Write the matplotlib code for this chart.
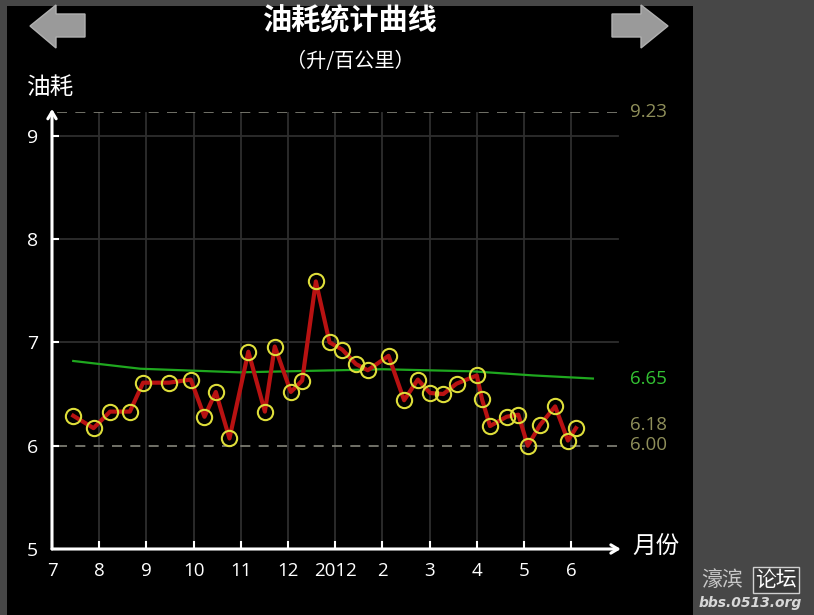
import matplotlib
matplotlib.use('Agg')
import matplotlib.pyplot as plt
from matplotlib.patches import Polygon, Rectangle

# ---- data ----
months = [0.45, 0.88, 1.23, 1.65, 1.93, 2.48, 2.94, 3.23, 3.47, 3.76, 4.16, 4.51,
          4.72, 5.06, 5.30, 5.59, 5.88, 6.15, 6.44, 6.69, 7.13, 7.46, 7.75, 8.01,
          8.29, 8.57, 9.00, 9.11, 9.28, 9.63, 9.88, 10.08, 10.34, 10.66, 10.93, 11.10]
values = [6.29, 6.17, 6.33, 6.33, 6.61, 6.61, 6.64, 6.28, 6.52, 6.07, 6.91, 6.33,
          6.96, 6.52, 6.63, 7.59, 7.00, 6.93, 6.79, 6.73, 6.87, 6.44, 6.64, 6.51,
          6.50, 6.60, 6.68, 6.45, 6.19, 6.28, 6.30, 6.00, 6.20, 6.38, 6.05, 6.17]
trend_months = [0.45, 1.87, 3.97, 6.02, 7.0, 8.9, 10.2, 11.46]
trend_values = [6.82, 6.745, 6.71, 6.73, 6.74, 6.72, 6.68, 6.65]
month_labels = ['7', '8', '9', '10', '11', '12', '2012', '2', '3', '4', '5', '6']
y_ticks = [5, 6, 7, 8, 9]
max_value = 9.23
min_value = 6.00
avg_value = 6.65
last_value = 6.18

CJK = ['Noto Sans CJK SC', 'DejaVu Sans']
NUM = ['Open Sans', 'Noto Sans CJK SC', 'DejaVu Sans']

W, H = 814, 615
fig = plt.figure(figsize=(W / 100, H / 100), dpi=100)
fig.patch.set_facecolor('#474747')


def px(x, y):
    return (x / W, 1 - y / H)


# black phone panel
fig.patches.append(Rectangle(px(7, 615), (693 - 7) / W, (615 - 6) / H,
                             transform=fig.transFigure, facecolor='black',
                             edgecolor='none', zorder=-10))

# navigation arrows
left_arrow = [(30, 26), (56, 5), (56, 14), (85, 14), (85, 37), (56, 37), (56, 48)]
right_arrow = [(668, 26), (641, 5), (641, 14), (612, 14), (612, 37), (641, 37), (641, 48)]
for pts in (left_arrow, right_arrow):
    fig.patches.append(Polygon([px(*p) for p in pts], closed=True,
                               transform=fig.transFigure, facecolor='#9a9a9a',
                               edgecolor='#b0b0b0', linewidth=1, zorder=-5))

# titles
fig.text(*px(350, 19), '油耗统计曲线', ha='center', va='center', fontsize=21,
         color='white', family=CJK, weight='bold')
fig.text(*px(350, 61), '（升/百公里）', ha='center', va='center', fontsize=14.5,
         color='white', family=CJK)

# axes: x from 52px (month 0) with 47.2 px/month; y 549px=5, 103.3 px/unit
left_px, right_px = 52, 622
bottom_px, top_px = 549, 112
ax = fig.add_axes([left_px / W, (H - bottom_px) / H,
                   (right_px - left_px) / W, (bottom_px - top_px) / H])
ax.set_facecolor('none')
ax.set_xlim(0, (right_px - left_px) / 47.2)
ax.set_ylim(5, max_value)
for s in ax.spines.values():
    s.set_visible(False)

# grid
grid_color = '#2e2e2e'
for m in range(1, len(month_labels)):
    ax.plot([m, m], [5, max_value], color=grid_color, lw=1.3, zorder=1)
for yv in [7, 8, 9]:
    ax.plot([0, 12.0], [yv, yv], color=grid_color, lw=1.3, zorder=1)
ax.plot([0.1, 12.0], [max_value, max_value], color='#85857a', lw=1.2,
        dashes=(6, 5), zorder=1)
ax.plot([0.1, 12.0], [min_value, min_value], color='#85857a', lw=1.2,
        dashes=(6, 5), zorder=1)

# axis lines with arrows
ax.annotate('', xy=(0, 9.26), xytext=(0, 5), xycoords='data',
            arrowprops=dict(arrowstyle='->,head_length=0.5,head_width=0.3',
                            color='white', lw=2.2, shrinkA=0, shrinkB=0),
            annotation_clip=False, zorder=5)
ax.annotate('', xy=(12.05, 5), xytext=(0, 5), xycoords='data',
            arrowprops=dict(arrowstyle='->,head_length=0.5,head_width=0.3',
                            color='white', lw=2.2, shrinkA=0, shrinkB=0),
            annotation_clip=False, zorder=5)

# ticks
ax.set_xticks(range(len(month_labels)))
ax.set_xticklabels(month_labels, family=NUM, fontsize=13.5, color='white')
ax.set_yticks(y_ticks)
ax.set_yticklabels([str(v) for v in y_ticks], family=NUM, fontsize=14, color='white')
ax.tick_params(axis='x', direction='in', length=6, width=1.5, color='white', pad=9)
ax.tick_params(axis='y', direction='in', length=5, width=1.5, color='white', pad=10)

# trend line
ax.plot(trend_months, trend_values, color='#1fa81f', lw=1.6, zorder=3)

# data line
ax.plot(months, values, color='#b81212', lw=3.0, zorder=4, solid_joinstyle='round')
ax.plot(months, values, linestyle='none', marker='o', markersize=11,
        markerfacecolor='none', markeredgecolor='#dede3a', markeredgewidth=1.5,
        zorder=6)

# right side labels
lx = (630 - left_px) / 47.2
olive = '#8f8f5a'
ax.text(lx, max_value, f'{max_value:.2f}', color=olive, fontsize=13.5,
        family=NUM, va='center', ha='left', clip_on=False)
ax.text(lx, avg_value, f'{avg_value:.2f}', color='#33c233', fontsize=13.5,
        family=NUM, va='center', ha='left', clip_on=False)
ax.text(lx, last_value + 0.02, f'{last_value:.2f}', color=olive, fontsize=13.5,
        family=NUM, va='center', ha='left', clip_on=False)
ax.text(lx, min_value + 0.01, f'{min_value:.2f}', color=olive, fontsize=13.5,
        family=NUM, va='center', ha='left', clip_on=False)

# axis titles
fig.text(*px(51, 87), '油耗', ha='center', va='center', fontsize=17,
         color='white', family=CJK)
fig.text(*px(656, 546), '月份', ha='center', va='center', fontsize=17,
         color='white', family=CJK)

# watermark
fig.text(*px(722, 580), '濠滨', ha='center', va='center', fontsize=15,
         color='#c8c8c8', family=CJK)
fig.text(*px(776, 580), '论坛', ha='center', va='center', fontsize=15,
         color='white', family=CJK,
         bbox=dict(boxstyle='square,pad=0.1', facecolor='#3a3a3a',
                   edgecolor='#d0d0d0', lw=1))
fig.text(*px(750, 603), 'bbs.0513.org', ha='center', va='center', fontsize=10,
         color='#d8d8d8', style='italic', weight='bold', family=['DejaVu Sans'])

fig.savefig('out.png', dpi=100, facecolor=fig.get_facecolor())
